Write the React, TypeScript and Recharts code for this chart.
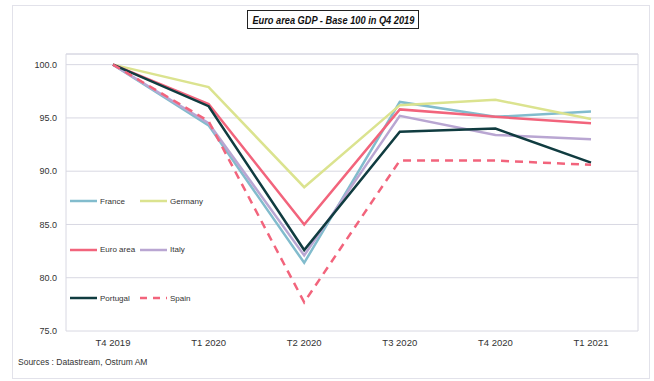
import { LineChart, Line, XAxis, YAxis, CartesianGrid, ReferenceLine, Legend } from 'recharts'

const quarters = ['T4 2019', 'T1 2020', 'T2 2020', 'T3 2020', 'T4 2020', 'T1 2021']
const france = [100, 94.3, 81.4, 96.5, 95.1, 95.6]
const germany = [100, 97.9, 88.5, 96.2, 96.7, 94.9]
const euroArea = [100, 96.3, 85.0, 95.8, 95.1, 94.5]
const italy = [100, 94.5, 82.1, 95.2, 93.4, 93.0]
const portugal = [100, 96.1, 82.6, 93.7, 94.0, 90.8]
const spain = [100, 94.7, 77.7, 91.0, 91.0, 90.6]
const yTicks = [75, 80, 85, 90, 95, 100]

const FONT = '"Liberation Sans", Arial, sans-serif'
const GRID = '#d8d8e2'

const series = [
  { key: 'France', color: '#82bccd', dash: undefined },
  { key: 'Germany', color: '#dbe38f', dash: undefined },
  { key: 'Euro area', color: '#f2647c', dash: undefined },
  { key: 'Italy', color: '#b9a6d2', dash: undefined },
  { key: 'Portugal', color: '#103c40', dash: undefined },
  { key: 'Spain', color: '#f2647c', dash: '8 6' },
]

const data = quarters.map((q, i) => ({
  q,
  France: france[i],
  Germany: germany[i],
  'Euro area': euroArea[i],
  Italy: italy[i],
  Portugal: portugal[i],
  Spain: spain[i],
}))

function LegendRows() {
  const rows = [0, 1, 2].map(r => series.slice(r * 2, r * 2 + 2))
  return (
    <div style={{ fontFamily: FONT, fontSize: 8, color: '#333' }}>
      {rows.map((row, ri) => (
        <div key={ri} style={{ display: 'flex', alignItems: 'center', height: 48.5 }}>
          {row.map((s, ci) => (
            <div key={s.key} style={{ display: 'flex', alignItems: 'center', width: ci === 0 ? 70 : 80 }}>
              <svg width={27} height={6} style={{ marginRight: 3 }}>
                <line x1={0} y1={3} x2={27} y2={3} stroke={s.color} strokeWidth={2.5}
                  strokeDasharray={s.dash ? '7 6' : undefined} />
              </svg>
              <span>{s.key}</span>
            </div>
          ))}
        </div>
      ))}
    </div>
  )
}

export default function App() {
  return (
    <div style={{ position: 'fixed', left: 0, top: 0, width: 654, height: 381, background: '#fff' }}>
      <div style={{ position: 'absolute', left: 12, top: 5, width: 638, height: 374, border: '1px solid #e2e2ea', boxSizing: 'border-box' }} />
      <div style={{
        position: 'absolute', left: 247, top: 10, width: 172, height: 19, border: '1px solid #222',
        boxSizing: 'border-box', display: 'flex', alignItems: 'center', justifyContent: 'center', overflow: 'visible',
      }}>
        <span style={{
          fontFamily: FONT, fontSize: 11, fontWeight: 'bold', fontStyle: 'italic', color: '#111',
          whiteSpace: 'nowrap', display: 'inline-block', transform: 'scaleX(0.84)',
        }}>
          Euro area GDP - Base 100 in Q4 2019
        </span>
      </div>
      <LineChart width={654} height={381} data={data} margin={{ top: 54, right: 16, bottom: 0, left: 0 }}
        style={{ position: 'absolute', left: 0, top: 0 }}>
        <CartesianGrid stroke={GRID}
          verticalCoordinatesGenerator={({ offset }: any) => [offset.left, offset.left + offset.width]} />
        <ReferenceLine y={101} stroke={GRID} />
        <XAxis dataKey="q" height={50} tickLine={false} axisLine={false} tickSize={0} tickMargin={8}
          padding={{ left: 47, right: 47 }}
          tick={{ fontFamily: FONT, fontSize: 9.5, fill: '#333' }} interval={0} />
        <YAxis domain={[75, 101]} ticks={yTicks} width={66} tickLine={false} axisLine={false} tickSize={0}
          tickMargin={9} tickFormatter={v => v.toFixed(1)} tick={{ fontFamily: FONT, fontSize: 9, fill: '#333' }} />
        <Legend layout="vertical" align="center" verticalAlign="middle" content={() => <LegendRows />}
          wrapperStyle={{ left: 70, top: 177, width: 160 }} />
        {series.map(s => (
          <Line key={s.key} dataKey={s.key} stroke={s.color} strokeWidth={2.5} strokeDasharray={s.dash}
            dot={false} activeDot={false} isAnimationActive={false} />
        ))}
      </LineChart>
      <div style={{ position: 'absolute', left: 18, top: 357, fontFamily: FONT, fontSize: 8.5, color: '#333' }}>
        Sources : Datastream, Ostrum AM
      </div>
    </div>
  )
}
